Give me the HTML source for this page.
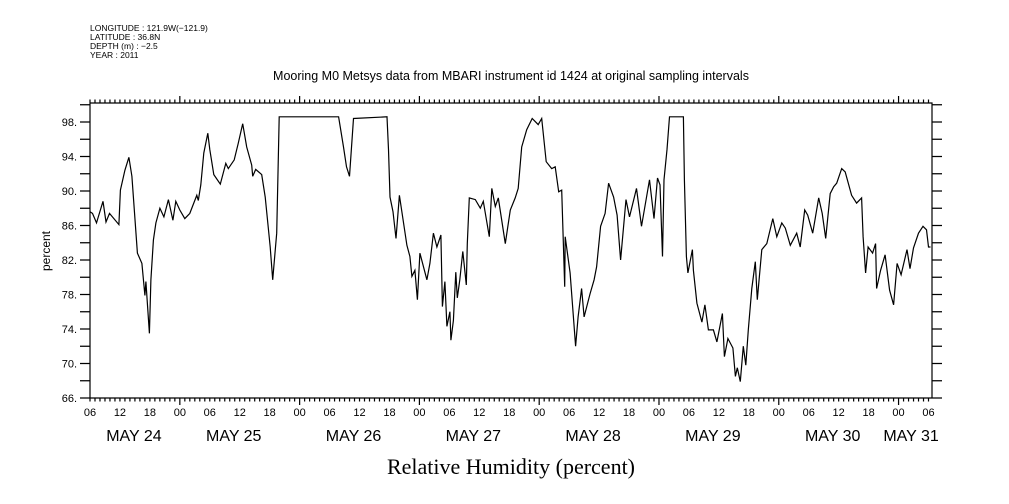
<!DOCTYPE html>
<html><head><meta charset="utf-8"><style>
body{margin:0;background:#fff;}
svg{display:block;font-family:"Liberation Sans",sans-serif;}
</style></head><body>
<svg id="chart" width="1009" height="504" viewBox="0 0 1009 504">
<g font-size="8.5" fill="#000">
<text x="90" y="31">LONGITUDE : 121.9W(−121.9)</text>
<text x="90" y="40">LATITUDE : 36.8N</text>
<text x="90" y="49">DEPTH (m) : −2.5</text>
<text x="90" y="58">YEAR : 2011</text>
</g>
<text x="511" y="80" text-anchor="middle" font-size="12.5">Mooring M0 Metsys data from MBARI instrument id 1424 at original sampling intervals</text>
<text transform="translate(50,251) rotate(-90)" text-anchor="middle" font-size="12">percent</text>
<text x="511" y="474" text-anchor="middle" font-size="22" font-family="Liberation Serif, serif">Relative Humidity (percent)</text>
<g id="axes"></g>
<path id="line" fill="none" stroke="#000" stroke-width="1.2"/>
</svg>
<script>
const hours=[0,0.5,1.3,2.6,3.2,3.9,5.8,6.1,7.0,7.8,8.4,9.5,10.4,11.0,11.2,11.7,11.9,12.2,12.7,13.2,14.0,14.8,15.7,16.6,17.2,18.0,19.0,20.0,21.4,21.7,22.2,22.8,23.6,24.0,24.8,26.1,27.2,27.7,28.9,29.7,30.6,31.4,32.4,32.6,33.2,34.4,35.1,36.1,36.6,37.4,37.9,49.8,50.8,51.4,52.0,52.8,59.5,59.8,60.1,60.7,61.3,62.0,63.5,64.1,64.5,65.1,65.6,66.1,67.5,68.1,68.8,69.5,70.3,70.6,71.1,71.5,72.1,72.3,72.8,73.3,73.6,74.1,74.7,75.4,75.6,76.0,77.2,78.2,78.8,80.0,80.5,81.2,81.8,83.2,84.2,85.2,85.8,86.5,87.5,88.6,89.8,90.5,91.4,92.5,93.2,93.9,94.5,95.1,95.2,96.2,97.3,97.8,98.5,99.0,100.2,101.0,101.5,102.3,103.2,103.9,104.9,105.6,106.3,107.4,108.1,109.5,110.5,112.1,113.0,113.7,114.2,114.7,115.0,115.6,116.1,118.9,119.1,119.5,119.8,120.7,120.9,121.6,122.6,123.2,123.9,124.9,125.6,126.7,127.1,127.8,128.8,129.3,129.7,130.3,130.9,131.4,131.9,132.6,133.3,133.7,134.6,135.6,136.8,137.6,138.6,139.3,140.3,141.6,142.3,143.2,143.8,144.8,146.0,146.7,147.4,148.3,149.0,149.6,150.6,151.3,152.6,153.6,154.6,154.9,155.4,155.9,156.8,157.4,157.6,158.4,159.3,160.2,161.0,161.7,162.5,163.7,164.3,165.0,166.0,166.9,167.6,168.0,168.4];
const humidity=[87.6,87.4,86.3,88.8,86.4,87.4,86.1,90.1,92.4,93.9,91.7,82.8,81.6,77.9,79.5,75.2,73.5,79.7,84.3,86.3,88.0,87.0,89.0,86.6,88.8,87.8,86.8,87.4,89.5,88.9,90.7,94.4,96.7,94.8,91.9,90.8,93.2,92.6,93.6,95.5,97.8,95.1,93.0,91.7,92.5,91.9,89.3,83.5,79.7,85.1,98.6,98.6,95.1,92.8,91.7,98.4,98.6,94.8,89.3,87.6,84.5,89.5,83.7,82.4,80.1,80.8,77.4,82.8,79.7,81.6,85.1,83.5,84.9,76.6,79.5,74.3,76.0,72.7,75.0,80.6,77.6,79.7,83.0,79.1,83.9,89.2,89.0,88.0,88.8,84.7,90.3,88.2,89.2,83.9,87.8,89.2,90.3,95.1,97.1,98.4,97.7,98.4,93.4,92.6,92.8,89.9,90.1,78.9,84.7,80.5,72.0,75.4,78.7,75.4,78.1,79.7,81.2,85.9,87.4,90.9,89.3,87.2,82.0,89.0,87.0,90.3,85.9,91.3,86.8,91.5,90.7,82.4,91.3,94.8,98.6,98.6,91.3,82.4,80.5,83.2,80.8,77.0,74.8,76.8,73.9,73.9,72.5,75.8,70.8,72.9,71.8,68.5,69.5,67.9,72.0,69.8,73.9,78.7,81.8,77.4,83.2,83.9,86.8,84.7,86.3,85.7,83.7,85.1,83.5,87.8,87.2,85.1,89.2,87.4,84.5,89.7,90.5,90.9,92.6,92.2,89.5,88.6,89.2,84.7,80.5,83.5,82.8,83.9,78.7,80.8,82.6,78.5,76.8,81.6,80.3,83.2,81.0,83.4,85.1,85.9,85.5,83.5,83.5];
const yTickLabels=["66.","70.","74.","78.","82.","86.","90.","94.","98."];
const hourLabels=["06","12","18","00"];
const dayLabels=["MAY 24","MAY 25","MAY 26","MAY 27","MAY 28","MAY 29","MAY 30","MAY 31"];

const L=90,R=932,T=103,B=398,HMAX=168.7,VMIN=66,VMAX=100.2;
function xs(h){return L+h/HMAX*(R-L);}
function ys(v){return B-(v-VMIN)/(VMAX-VMIN)*(B-T);}
const NS="http://www.w3.org/2000/svg";
const ax=document.getElementById('axes');
function mk(tag,attrs,parent){const e=document.createElementNS(NS,tag);for(const k in attrs)e.setAttribute(k,attrs[k]);(parent||ax).appendChild(e);return e;}
let d=`M${L},${T}H${R}V${B}H${L}Z`;
for(let v=VMIN;v<=VMAX;v+=2){const y=ys(v);d+=`M${L-10},${y}H${L}M${R},${y}H${R+10}`;}
for(let h=0;h<=HMAX;h++){const x=xs(h);const major=(h%24)===18;const len=major?7:3.5;d+=`M${x},${T}V${T-len}M${x},${B}V${B+len}`;}
const frame=mk('path',{d:d,stroke:'#000','stroke-width':1.2,fill:'none'});


yTickLabels.forEach((lab,i)=>{
 const t=mk('text',{x:L-13,y:ys(VMIN+i*4)+4,'text-anchor':'end','font-size':11});
 
 
 t.textContent=lab;
});
for(let h=0,i=0;h<=HMAX;h+=6,i++){
 const t=mk('text',{x:xs(h),y:416,'text-anchor':'middle','font-size':11});
 
 
 t.textContent=hourLabels[i%4];
}
dayLabels.forEach((lab,i)=>{
 let h=30+24*(i-1)-1.2;
 if(i===0)h=8.8;
 if(i===7)h=164.5;
 const t=mk('text',{x:xs(h),y:441,'text-anchor':'middle','font-size':16});
 
 
 t.textContent=lab;
});
document.getElementById('line').setAttribute('d',hours.map((h,i)=>(i?'L':'M')+xs(h).toFixed(1)+','+ys(humidity[i]).toFixed(1)).join(''));
</script>
</body></html>
